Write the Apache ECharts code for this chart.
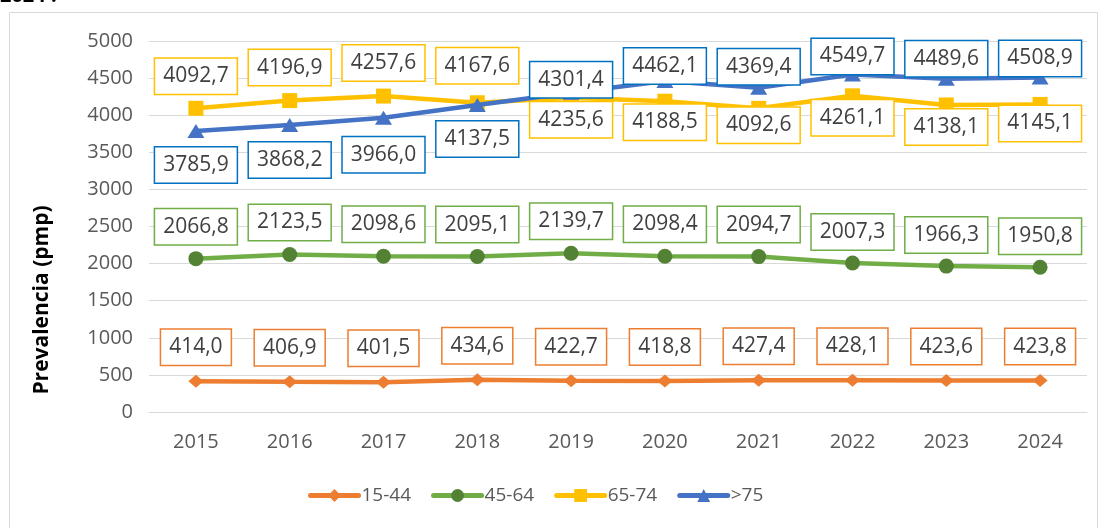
<!DOCTYPE html>
<html><head><meta charset="utf-8">
<script src="https://cdn.jsdelivr.net/npm/echarts@6/dist/echarts.min.js"></script>
<style>html,body{margin:0;padding:0;background:#fff}#c{width:1101px;height:528px}</style>
</head><body><div id="c"></div>
<script>
const years = ['2015','2016','2017','2018','2019','2020','2021','2022','2023','2024'];
const seriesNames = ['15-44','45-64','65-74','>75'];
const v1544 = [414.0,406.9,401.5,434.6,422.7,418.8,427.4,428.1,423.6,423.8];
const v4564 = [2066.8,2123.5,2098.6,2095.1,2139.7,2098.4,2094.7,2007.3,1966.3,1950.8];
const v6574 = [4092.7,4196.9,4257.6,4167.6,4235.6,4188.5,4092.6,4261.1,4138.1,4145.1];
const v75 = [3785.9,3868.2,3966.0,4137.5,4301.4,4462.1,4369.4,4549.7,4489.6,4508.9];
const yTicks = [0,500,1000,1500,2000,2500,3000,3500,4000,4500,5000];

const FONT = 'Open Sans';
// label vertical placement (layout only)
const labOff = [
  [-34,-34,-34,-34,-34,-34,-34,-34,-34,-34],
  [-32,-32,-32,-32,-32,-32,-32,-31,-31,-31],
  [-32,-33,-33,-37,22,21,17,22,22,19],
  [34,35,37,34,-13,-15,-21,-18,-20,-19]
];
const styles = [
  {line:'#ED7D31', sym:'#ED7D31', box:'#ED7D31', symbol:'diamond', size:[15,13]},
  {line:'#70AD47', sym:'#548235', box:'#70AD47', symbol:'circle', size:15},
  {line:'#FFC000', sym:'#FFC000', box:'#FFC000', symbol:'rect', size:15},
  {line:'#4472C4', sym:'#4472C4', box:'#0070C0', symbol:'triangle', size:[17,14]}
];
const allVals = [v1544, v4564, v6574, v75];
const fmt = v => v.toFixed(1).replace('.', ',');

const series = allVals.map((vals, si) => ({
  name: seriesNames[si],
  type: 'line',
  data: vals.map((v, i) => ({
    value: v,
    label: {offset: [0, labOff[si][i]]}
  })),
  symbol: styles[si].symbol,
  symbolSize: styles[si].size,
  showAllSymbol: true,
  lineStyle: {color: styles[si].line, width: 4.5},
  itemStyle: {color: styles[si].sym, borderWidth: 0},
  color: styles[si].line,
  z: 2 + si,
  label: {
    show: true,
    position: 'inside',
    formatter: p => fmt(p.value),
    fontFamily: FONT, fontSize: 21, color: '#404040',
    backgroundColor: '#fff',
    borderColor: styles[si].box, borderWidth: 1.5,
    padding: [5, 8, 4, 8],
    lineHeight: 26
  },
  emphasis: {disabled: true},
  animation: false
}));

const chart = echarts.init(document.getElementById('c'), null, {renderer: 'canvas'});
chart.setOption({
  animation: false,
  grid: {left: 149, right: 14, top: 41, bottom: 116, containLabel: false},
  xAxis: {
    type: 'category', data: years, boundaryGap: true,
    axisLine: {lineStyle: {color: '#d9d9d9', width: 1}},
    axisTick: {show: false},
    axisLabel: {fontFamily: FONT, fontSize: 20, color: '#595959', margin: 20}
  },
  yAxis: {
    type: 'value', min: yTicks[0], max: yTicks[yTicks.length-1], interval: yTicks[1]-yTicks[0],
    axisLine: {show: false}, axisTick: {show: false},
    axisLabel: {fontFamily: FONT, fontSize: 20, color: '#595959', margin: 16, formatter: v => String(v)},
    splitLine: {lineStyle: {color: '#d9d9d9', width: 1}}
  },
  legend: {
    data: seriesNames, top: 481, left: 303,
    itemWidth: 48, itemHeight: 16, itemGap: 20,
    lineStyle: {width: 5, cap: 'round'},
    textStyle: {fontFamily: FONT, fontSize: 19, color: '#595959', padding: [0,0,0,-2]}
  },
  graphic: [
    {type: 'rect', shape: {x: 9.5, y: 12.5, width: 1088, height: 540}, style: {fill: null, stroke: '#d9d9d9', lineWidth: 1}, silent: true, z: -10},
    {type: 'text', x: 0, y: -14, style: {text: '2024 :', font: 'bold 20px "Open Sans"', fill: '#000'}, silent: true},
    {type: 'text', x: 42, y: 300, rotation: Math.PI/2, style: {text: 'Prevalencia (pmp)', font: 'bold 21px "Open Sans"', fill: '#000', align: 'center', verticalAlign: 'middle'}, silent: true}
  ],
  series: series
});
</script></body></html>
